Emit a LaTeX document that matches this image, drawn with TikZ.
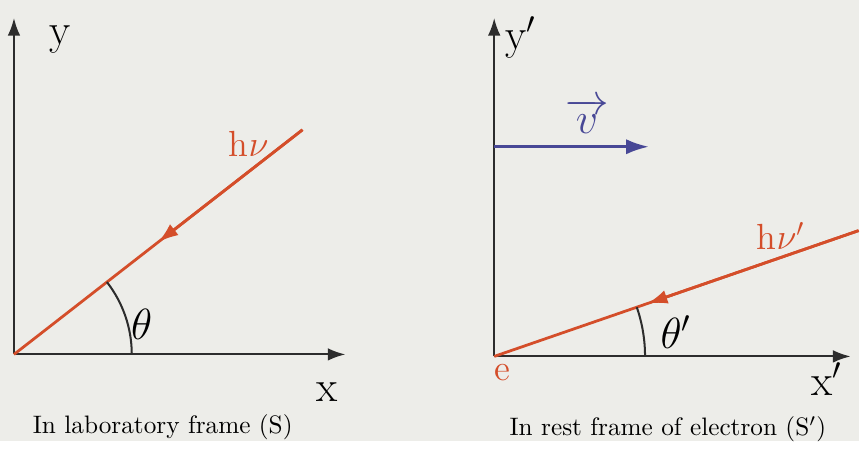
\documentclass[tikz,border=0pt]{standalone}
\usepackage{amsmath}
\usepackage{tikz}
\usetikzlibrary{arrows.meta,calc,angles}
\definecolor{bgpaper}{RGB}{237,237,233}
\definecolor{photonred}{RGB}{212,78,42}
\definecolor{velblue}{RGB}{72,72,150}
\definecolor{axisgray}{RGB}{45,45,45}
\begin{document}
\begin{tikzpicture}[>=Latex,x=0.0139cm,y=0.0139cm,
  axis/.style={draw=axisgray,line width=0.8pt,->,>={Latex[length=7pt,width=5pt]}},
  photon/.style={draw=photonred,line width=1.1pt},
  midtip/.style={photon,->,>={Latex[length=8pt,width=5.5pt]}},
  lbl/.style={font=\LARGE,inner sep=1pt},
  plbl/.style={font=\Large,inner sep=1pt,text=photonred}]
% coords in pixels of the 860x442 frame, y measured upward
\fill[bgpaper] (0,0) rectangle (860,442);
% --- laboratory frame (S) ---
\coordinate (O1) at (14,87);
\coordinate (Y1) at (14,424);
\coordinate (X1) at (346,87);
\coordinate (P1) at (303,312);
\coordinate (M1) at ($(P1)!0.5!(O1)$);
\draw[axis] (O1) -- (Y1);
\draw[axis] (O1) -- (X1);
\draw[photon] (P1) -- (O1);
\draw[midtip] (P1) -- (M1);
\pic[draw=axisgray,line width=0.8pt,angle radius=1.64cm] {angle=X1--O1--P1};
\node[lbl] (ylab) at (60,402) {y};
\node[lbl] (xlab) at (328,49) {x};
\node[plbl] (hnu) at (249,298) {h$\nu$};
\node[lbl] (theta) at (142,117) {$\theta$};
\node (capS) at (163,14) {In laboratory frame (S)};
% --- rest frame of electron (S') ---
\coordinate (O2) at (495,85);
\coordinate (Y2) at (495,424);
\coordinate (X2) at (852,85);
\coordinate (P2) at (860,211);
\coordinate (M2) at ($(P2)!0.58!(O2)$);
\coordinate (V0) at (495,295);
\coordinate (V1) at (650,295);
\draw[axis] (O2) -- (Y2);
\draw[axis] (O2) -- (X2);
\draw[photon] (P2) -- (O2);
\draw[midtip] (P2) -- (M2);
\draw[draw=velblue,line width=1.2pt,->,>={Latex[length=9pt,width=6pt]}] (V0) -- (V1);
\pic[draw=axisgray,line width=0.8pt,angle radius=2.1cm] {angle=X2--O2--P2};
\node[lbl] (yplab) at (522,404) {y$'$};
\node[lbl] (xplab) at (828,62) {x$'$};
\node[lbl,text=velblue] (vlab) at (588,326) {$\overrightarrow{v}$};
\node[plbl] (hnup) at (782,206) {h$\nu'$};
\node[lbl] (thetap) at (677,109) {$\theta'$};
\node[plbl] (elab) at (503,69) {e};
\node (capSp) at (669,12) {In rest frame of electron (S$'$)};
\end{tikzpicture}
\end{document}
